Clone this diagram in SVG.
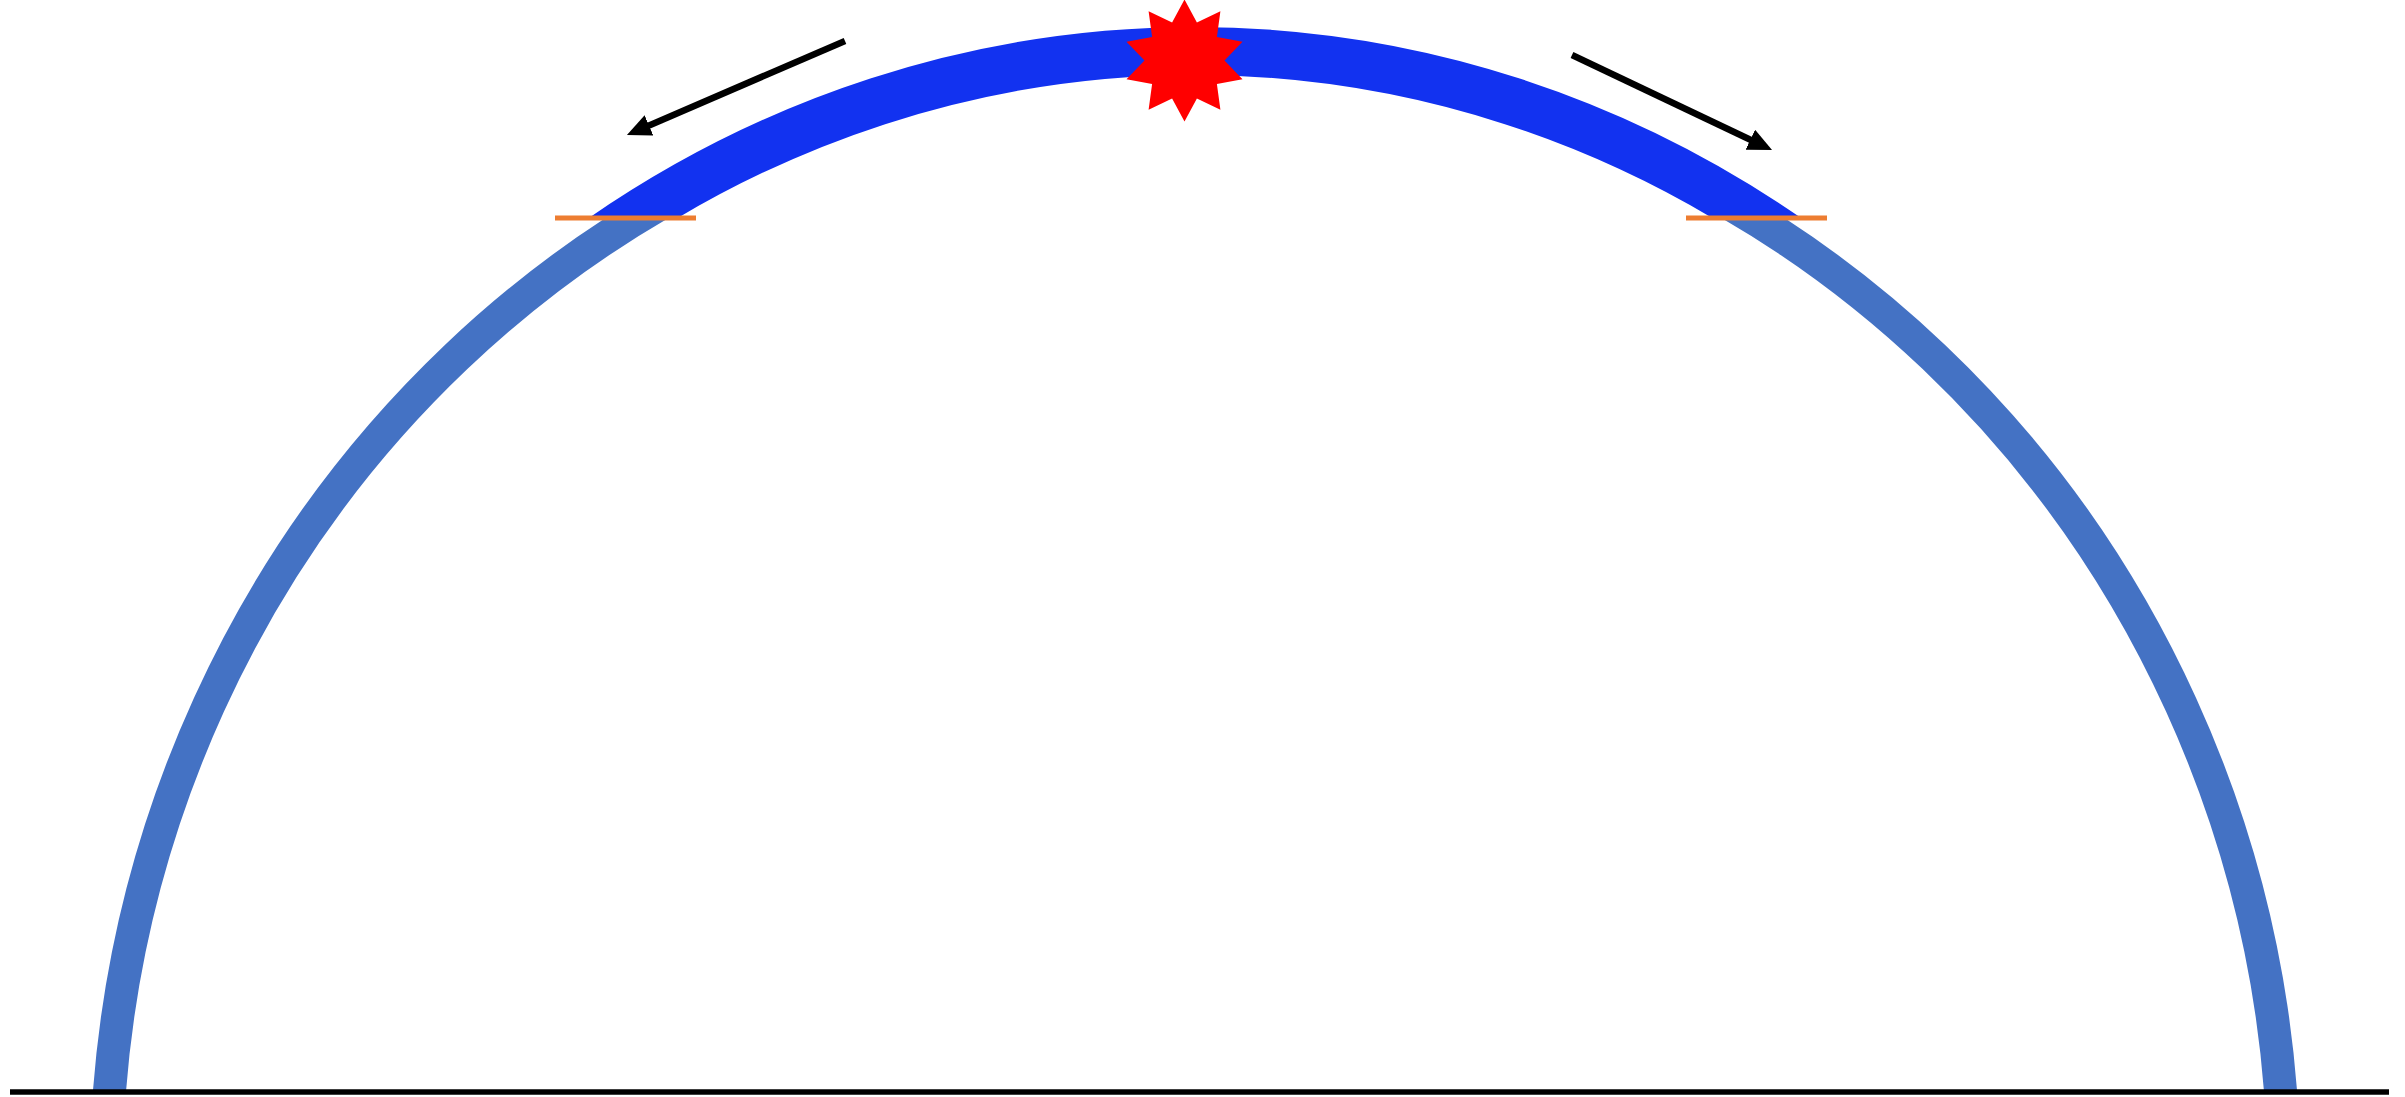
<svg xmlns="http://www.w3.org/2000/svg" width="2405" height="1097" viewBox="0 0 2405 1097">
  <style>
    .arch { fill: none; stroke: #4472C4; stroke-width: 33; stroke-linecap: butt; }
    .cap { fill: none; stroke: #1232F0; stroke-width: 48; stroke-linecap: butt; }
    .tick { stroke: #ED7D31; stroke-width: 5; }
    .arrow { stroke: #000000; stroke-width: 6.5; fill: none; marker-end: url(#head); }
    .base { stroke: #000000; stroke-width: 5.5; }
  </style>
  <defs>
    <marker id="head" viewBox="0 0 10 10" markerWidth="3.7" markerHeight="3.4" refX="1" refY="5" orient="auto" preserveAspectRatio="none">
      <path d="M0,0 L10,5 L0,10 z" fill="#000000"/>
    </marker>
    <clipPath id="below"><rect x="0" y="218" width="2405" height="874"/></clipPath>
    <clipPath id="above"><rect x="0" y="0" width="2405" height="218"/></clipPath>
  </defs>
  <rect x="0" y="0" width="2405" height="1097" fill="#FFFFFF"/>

  <g id="arch">
    <path class="arch" clip-path="url(#below)" d="M 109.4 1092 A 1089 1121 0 0 1 2280.6 1092"/>
  </g>
  <g id="arch-top">
    <path class="cap" clip-path="url(#above)" d="M 599.2 240 A 1089 1160 0 0 1 1790.8 240"/>
  </g>
  <g id="tick-left">
    <line class="tick" x1="555" y1="218" x2="696" y2="218"/>
  </g>
  <g id="tick-right">
    <line class="tick" x1="1686" y1="218" x2="1827" y2="218"/>
  </g>
  <g id="star">
    <polygon fill="#FF0000" points="1184.5,-0.5 1196.9,22.5 1220.4,11.2 1216.9,37.0 1242.5,41.7 1224.5,60.5 1242.5,79.3 1216.9,84.0 1220.4,109.8 1196.9,98.5 1184.5,121.5 1172.1,98.5 1148.6,109.8 1152.1,84.0 1126.5,79.3 1144.5,60.5 1126.5,41.7 1152.1,37.0 1148.6,11.2 1172.1,22.5"/>
  </g>
  <g id="baseline">
    <line class="base" x1="10" y1="1092" x2="2389" y2="1092"/>
  </g>
  <g id="connectors">
    <line class="arrow" x1="845" y1="41" x2="646.8" y2="126.4"/>
    <line class="arrow" x1="1572" y1="55" x2="1752.5" y2="140.7"/>
  </g>
</svg>
